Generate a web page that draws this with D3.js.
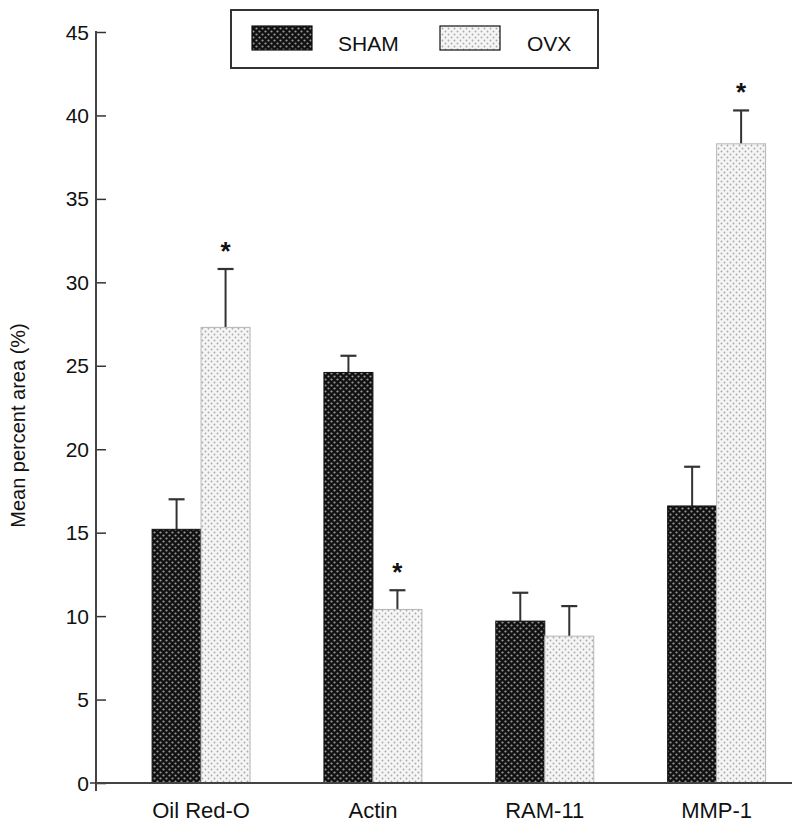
<!DOCTYPE html>
<html>
<head>
<meta charset="utf-8">
<script src="https://cdn.jsdelivr.net/npm/d3@7"></script>
<style>
  html, body { margin: 0; padding: 0; background: #fff; }
  svg { display: block; font-family: "Liberation Sans", Arial, Helvetica, sans-serif; }
</style>
</head>
<body>
<svg id="chart" width="800" height="829"></svg>
<script>
// ---- data ----
const categories = ["Oil Red-O", "Actin", "RAM-11", "MMP-1"];
const seriesNames = ["SHAM", "OVX"];
const shamValues = [15.2, 24.6, 9.7, 16.6];
const shamUpper = [17.0, 25.6, 11.4, 18.95];
const ovxValues = [27.3, 10.4, 8.8, 38.3];
const ovxUpper = [30.8, 11.55, 10.6, 40.3];
const ovxSignificant = [true, true, false, true];
const yTicks = [0, 5, 10, 15, 20, 25, 30, 35, 40, 45];
const yLabel = "Mean percent area (%)";

// ---- layout ----
const svg = d3.select("#chart");
const axisX = 96, baseY = 783, topY = 32, rightX = 792;

const x = d3.scaleBand().domain(categories).range([axisX, rightX])
  .paddingInner(0.43).paddingOuter(0.24).align(0.68);
const xs = d3.scaleBand().domain(seriesNames).range([0, x.bandwidth()]);
const y = d3.scaleLinear().domain([0, 45]).range([baseY, topY]);

// patterns
const defs = svg.append("defs");
const pDark = defs.append("pattern").attr("id", "pDark").attr("patternUnits", "userSpaceOnUse")
  .attr("width", 6).attr("height", 6);
pDark.append("rect").attr("width", 6).attr("height", 6).attr("fill", "#111");
pDark.append("circle").attr("cx", 1.5).attr("cy", 1.5).attr("r", 1.1).attr("fill", "#9a9a9a");
pDark.append("circle").attr("cx", 4.5).attr("cy", 4.5).attr("r", 1.1).attr("fill", "#9a9a9a");

const pLight = defs.append("pattern").attr("id", "pLight").attr("patternUnits", "userSpaceOnUse")
  .attr("width", 6).attr("height", 6);
pLight.append("rect").attr("width", 6).attr("height", 6).attr("fill", "#f5f5f5");
pLight.append("circle").attr("cx", 1.5).attr("cy", 1.5).attr("r", 0.9).attr("fill", "#a8a8a8");
pLight.append("circle").attr("cx", 4.5).attr("cy", 4.5).attr("r", 0.9).attr("fill", "#a8a8a8");

const fills = { SHAM: "url(#pDark)", OVX: "url(#pLight)" };
const strokes = { SHAM: "#111", OVX: "#b5b5b5" };

const rows = [];
categories.forEach((c, i) => {
  rows.push({ cat: c, s: "SHAM", v: shamValues[i], up: shamUpper[i], sig: false });
  rows.push({ cat: c, s: "OVX", v: ovxValues[i], up: ovxUpper[i], sig: ovxSignificant[i] });
});

// error bars (behind bars)
const eb = svg.append("g");
rows.forEach(d => {
  const cx = x(d.cat) + xs(d.s) + xs.bandwidth() / 2;
  eb.append("line").attr("x1", cx).attr("x2", cx).attr("y1", y(d.v)).attr("y2", y(d.up))
    .attr("stroke", "#333").attr("stroke-width", 2);
  eb.append("line").attr("x1", cx - 8).attr("x2", cx + 8).attr("y1", y(d.up)).attr("y2", y(d.up))
    .attr("stroke", "#333").attr("stroke-width", 2.2);
  if (d.sig) {
    eb.append("text").attr("x", cx).attr("y", y(d.up) - 9).attr("text-anchor", "middle")
      .attr("font-size", 26).attr("font-weight", "bold").attr("fill", "#111").text("*");
  }
});

// bars
svg.append("g").selectAll("rect").data(rows).join("rect")
  .attr("x", d => x(d.cat) + xs(d.s))
  .attr("width", xs.bandwidth())
  .attr("y", d => y(d.v))
  .attr("height", d => baseY - y(d.v))
  .attr("fill", d => fills[d.s])
  .attr("stroke", d => strokes[d.s])
  .attr("stroke-width", 1);

// y axis
const yAxis = d3.axisRight(y).tickValues(yTicks).tickSize(10).tickFormat("");
const gy = svg.append("g").attr("transform", `translate(${axisX},0)`).call(yAxis);
gy.select(".domain").remove();
gy.selectAll(".tick line").attr("stroke", "#333").attr("stroke-width", 1.5);
svg.append("line").attr("x1", axisX).attr("x2", axisX).attr("y1", topY - 1).attr("y2", baseY + 8)
  .attr("stroke", "#444").attr("stroke-width", 2);
svg.append("g").selectAll("text").data(yTicks).join("text")
  .attr("x", axisX - 7).attr("y", d => y(d)).attr("dy", "0.36em")
  .attr("text-anchor", "end").attr("font-size", 21).attr("fill", "#111").text(d => d);
svg.append("line").attr("x1", axisX - 6).attr("x2", axisX).attr("y1", baseY).attr("y2", baseY)
  .attr("stroke", "#333").attr("stroke-width", 1.5);

// x axis
svg.append("line").attr("x1", axisX).attr("x2", rightX).attr("y1", baseY).attr("y2", baseY)
  .attr("stroke", "#444").attr("stroke-width", 2);
svg.append("g").selectAll("text").data(categories).join("text")
  .attr("x", d => x(d) + x.bandwidth() / 2).attr("y", 818)
  .attr("text-anchor", "middle").attr("font-size", 22).attr("fill", "#111").text(d => d);

// y label
svg.append("text").attr("transform", `translate(25,${(topY + baseY) / 2 + 18}) rotate(-90)`)
  .attr("text-anchor", "middle").attr("font-size", 20).attr("fill", "#111").text(yLabel);

// legend
const lg = svg.append("g");
lg.append("rect").attr("x", 231).attr("y", 10).attr("width", 367).attr("height", 58)
  .attr("fill", "#fff").attr("stroke", "#333").attr("stroke-width", 2);
const legendItems = [
  { name: "SHAM", sx: 252, tx: 338 },
  { name: "OVX", sx: 440, tx: 527 }
];
legendItems.forEach(it => {
  lg.append("rect").attr("x", it.sx).attr("y", 26).attr("width", 60).attr("height", 24)
    .attr("fill", fills[it.name]).attr("stroke", "#111").attr("stroke-width", 1.2);
  lg.append("text").attr("x", it.tx).attr("y", 51).attr("font-size", 21).attr("fill", "#111").text(it.name);
});
</script>
</body>
</html>
